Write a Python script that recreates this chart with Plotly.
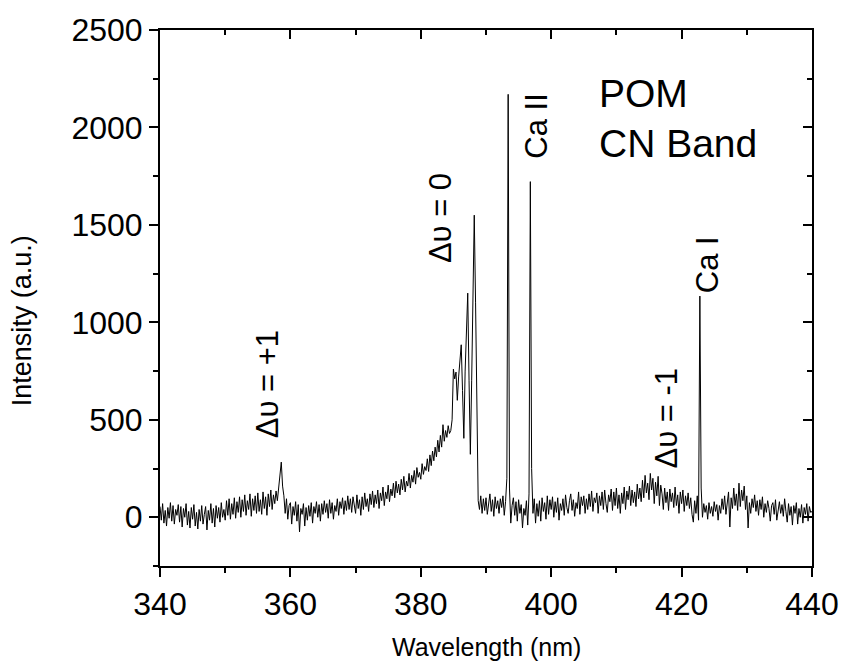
import numpy as np
import plotly.graph_objects as go

# Wavelength grid (nm), 0.2 nm step from 340 to 440
wl_start = 340.0
wl_step = 0.2

# Intensity values (a.u.), five values per nm
intensity = [
    55, -15, 70, -30, 35,      # 340
    -45, 50, -5, 75, -20,      # 341
    60, -35, 40, 10, 65,       # 342
    -25, 55, -50, 45, 0,       # 343
    70, -40, 30, -55, 50,      # 344
    -10, 65, -45, 25, -60,     # 345
    40, -20, 60, -35, 15,      # 346
    55, -65, 35, -15, 70,      # 347
    -30, 45, -50, 60, -5,      # 348
    50, -25, 75, 0, 40,        # 349
    -15, 85, 10, 95, -10,      # 350
    70, 15, 100, -5, 80,       # 351
    25, 105, 0, 90, 30,        # 352
    115, 10, 85, 40, 120,      # 353
    5, 95, 35, 110, 20,        # 354
    125, 30, 90, 15, 130,      # 355
    45, 105, 10, 120, 55,      # 356
    140, 40, 115, 70, 135,     # 357
    85, 150, 200, 283, 160,    # 358
    110, 20, 95, -10, 60,      # 359
    75, -35, 55, 10, 80,       # 360
    -20, 65, -75, 45, 15,      # 361
    70, -45, 50, -15, 60,      # 362
    5, 75, -30, 55, 20,        # 363
    80, 0, 65, -20, 70,        # 364
    15, 85, 25, 70, -5,        # 365
    90, 20, 75, -10, 60,       # 366
    30, 95, 10, 80, 45,        # 367
    100, 15, 85, 35, 110,      # 368
    40, 95, 25, 105, 50,       # 369
    20, 115, 45, 90, 10,       # 370
    105, 40, 125, 55, 95,      # 371
    30, 120, 65, 135, 50,      # 372
    115, 70, 140, 45, 125,     # 373
    85, 155, 60, 130, 95,      # 374
    165, 80, 145, 110, 175,    # 375
    100, 185, 125, 170, 115,   # 376
    195, 140, 210, 130, 185,   # 377
    160, 225, 150, 215, 180,   # 378
    240, 170, 255, 205, 230,   # 379
    195, 275, 220, 260, 240,   # 380
    300, 235, 320, 265, 340,   # 381
    290, 360, 310, 395, 335,   # 382
    420, 360, 475, 390, 445,   # 383
    410, 470, 430, 445, 500,   # 384
    760, 710, 745, 600, 720,   # 385
    800, 885, 650, 405, 750,   # 386
    960, 1150, 700, 323, 700,  # 387
    1200, 1550, 1100, 400, 85, # 388
    40, 110, 20, 95, 35,       # 389
    100, 15, 80, 120, 30,      # 390
    90, 5, 105, 45, 85,        # 391
    20, 95, 50, 110, 10,       # 392
    80, 200, 2170, 150, -30,   # 393
    60, 100, 10, 80, -20,      # 394
    90, 20, 65, -55, 45,       # 395
    10, 85, -40, 120, 1722,    # 396
    250, 20, 95, -30, 70,      # 397
    5, 85, -20, 100, 30,       # 398
    75, -10, 110, 15, 90,      # 399
    40, 105, 0, 80, 25,        # 400
    100, -15, 70, 35, 95,      # 401
    10, 115, 50, 20, 85,       # 402
    120, 35, 90, 5, 75,        # 403
    45, 130, 15, 105, 60,      # 404
    110, 20, 95, 40, 120,      # 405
    55, 135, 30, 100, 75,      # 406
    125, 20, 110, 60, 130,     # 407
    40, 140, 70, 25, 115,      # 408
    80, 145, 35, 130, 60,      # 409
    150, 45, 115, 20, 125,     # 410
    70, 155, 40, 135, 90,      # 411
    160, 60, 140, 75, 130,     # 412
    55, 170, 95, 150, 80,      # 413
    190, 100, 215, 125, 175,   # 414
    90, 225, 140, 200, 70,     # 415
    180, 110, 210, 60, 165,    # 416
    120, 40, 150, 75, 130,     # 417
    35, 145, 80, 125, 50,      # 418
    155, 60, 115, 20, 130,     # 419
    70, 140, 30, 110, 60,      # 420
    125, 45, 100, 15, -25,     # 421
    85, 20, 110, -15, 1135,    # 422
    150, 0, 70, 25, 60,        # 423
    -10, 75, 20, 55, 5,        # 424
    80, 30, 65, -15, 60,       # 425
    20, 95, 40, 110, 15,       # 426
    85, 130, -50, 100, 45,     # 427
    150, 60, 120, 35, 175,     # 428
    55, 140, 85, 160, 40,      # 429
    110, -55, 75, 20, 95,      # 430
    50, 115, 30, 85, 10,       # 431
    90, 40, 105, 0, 70,        # 432
    25, 85, 45, -20, 60,       # 433
    75, 15, 90, -15, 50,       # 434
    80, 20, 65, 5, 95,         # 435
    30, -25, 70, 10, 55,       # 436
    -40, 60, 20, 75, -35,      # 437
    45, 0, 65, -30, 50,        # 438
    15, 70, -20, 55, 25,       # 439
    30,                        # 440
]
wavelength = wl_start + wl_step * np.arange(len(intensity))

x_range = [340, 440]
y_range = [-250, 2500]
x_ticks = [340, 360, 380, 400, 420, 440]
y_ticks = [0, 500, 1000, 1500, 2000, 2500]

x_title = "Wavelength (nm)"
y_title = "Intensity (a.u.)"

# Peak labels: (text, x, y)
peak_labels = [
    ("\u0394\u03c5 = +1", 356.4, 682),
    ("\u0394\u03c5 = 0", 382.95, 1535),
    ("Ca II", 397.7, 2005),
    ("\u0394\u03c5 = -1", 417.7, 510),
    ("Ca I", 424.0, 1297),
]
legend_lines = [("POM", 407.1, 2176), ("CN Band", 407.1, 1919)]

FONT = "Arial, Liberation Sans, sans-serif"

fig = go.Figure()
fig.add_trace(go.Scatter(x=wavelength, y=intensity, mode="lines",
                         line=dict(color="black", width=1), showlegend=False,
                         hoverinfo="skip"))
# invisible trace to hold mirror axes
fig.add_trace(go.Scatter(x=x_range, y=y_range, xaxis="x2", yaxis="y2",
                         mode="markers", marker=dict(opacity=0),
                         showlegend=False, hoverinfo="skip"))

axis_common = dict(showline=True, linecolor="black", linewidth=2,
                   showgrid=False, zeroline=False, tickcolor="black",
                   tickwidth=2)

fig.update_layout(
    width=851, height=666,
    margin=dict(l=160, r=32, t=24, b=100),
    paper_bgcolor="white", plot_bgcolor="white",
    font=dict(family=FONT, color="black"),
    xaxis=dict(range=x_range, tickvals=x_ticks, ticks="outside", ticklen=9,
               minor=dict(dtick=10, ticks="outside", ticklen=5,
                          tickcolor="black", tickwidth=2),
               tickfont=dict(size=32, family=FONT),
               **axis_common),
    yaxis=dict(range=y_range, tickvals=y_ticks, ticks="outside", ticklen=9,
               minor=dict(dtick=250, ticks="outside", ticklen=5,
                          tickcolor="black", tickwidth=2),
               tickfont=dict(size=32, family=FONT),
               **axis_common),
    xaxis2=dict(range=x_range, overlaying="x", side="top", tickvals=x_ticks,
                ticks="inside", ticklen=9, showticklabels=False,
                minor=dict(dtick=10, ticks="inside", ticklen=5,
                           tickcolor="black", tickwidth=2),
                **axis_common),
    yaxis2=dict(range=y_range, overlaying="y", side="right", tickvals=y_ticks,
                ticks="inside", ticklen=9, showticklabels=False,
                minor=dict(dtick=250, ticks="inside", ticklen=5,
                           tickcolor="black", tickwidth=2),
                **axis_common),
)

# axis titles
fig.add_annotation(x=0.5, y=-0.151, xref="paper", yref="paper", text=x_title,
                   showarrow=False, xanchor="center", yanchor="middle",
                   font=dict(size=25, family=FONT, color="black"))
fig.add_annotation(x=-0.2124, y=0.4576, xref="paper", yref="paper", text=y_title,
                   textangle=-90, showarrow=False, xanchor="center",
                   yanchor="middle",
                   font=dict(size=27, family=FONT, color="black"))

for text, x, y in peak_labels:
    fig.add_annotation(x=x, y=y, xref="x", yref="y", text=text, textangle=-90,
                       showarrow=False, xanchor="center", yanchor="middle",
                       font=dict(size=31, family=FONT, color="black"))
for text, x, y in legend_lines:
    fig.add_annotation(x=x, y=y, xref="x", yref="y", text=text,
                       showarrow=False, xanchor="left", yanchor="middle",
                       font=dict(size=39, family=FONT, color="black"))

fig.write_html("out.html")
